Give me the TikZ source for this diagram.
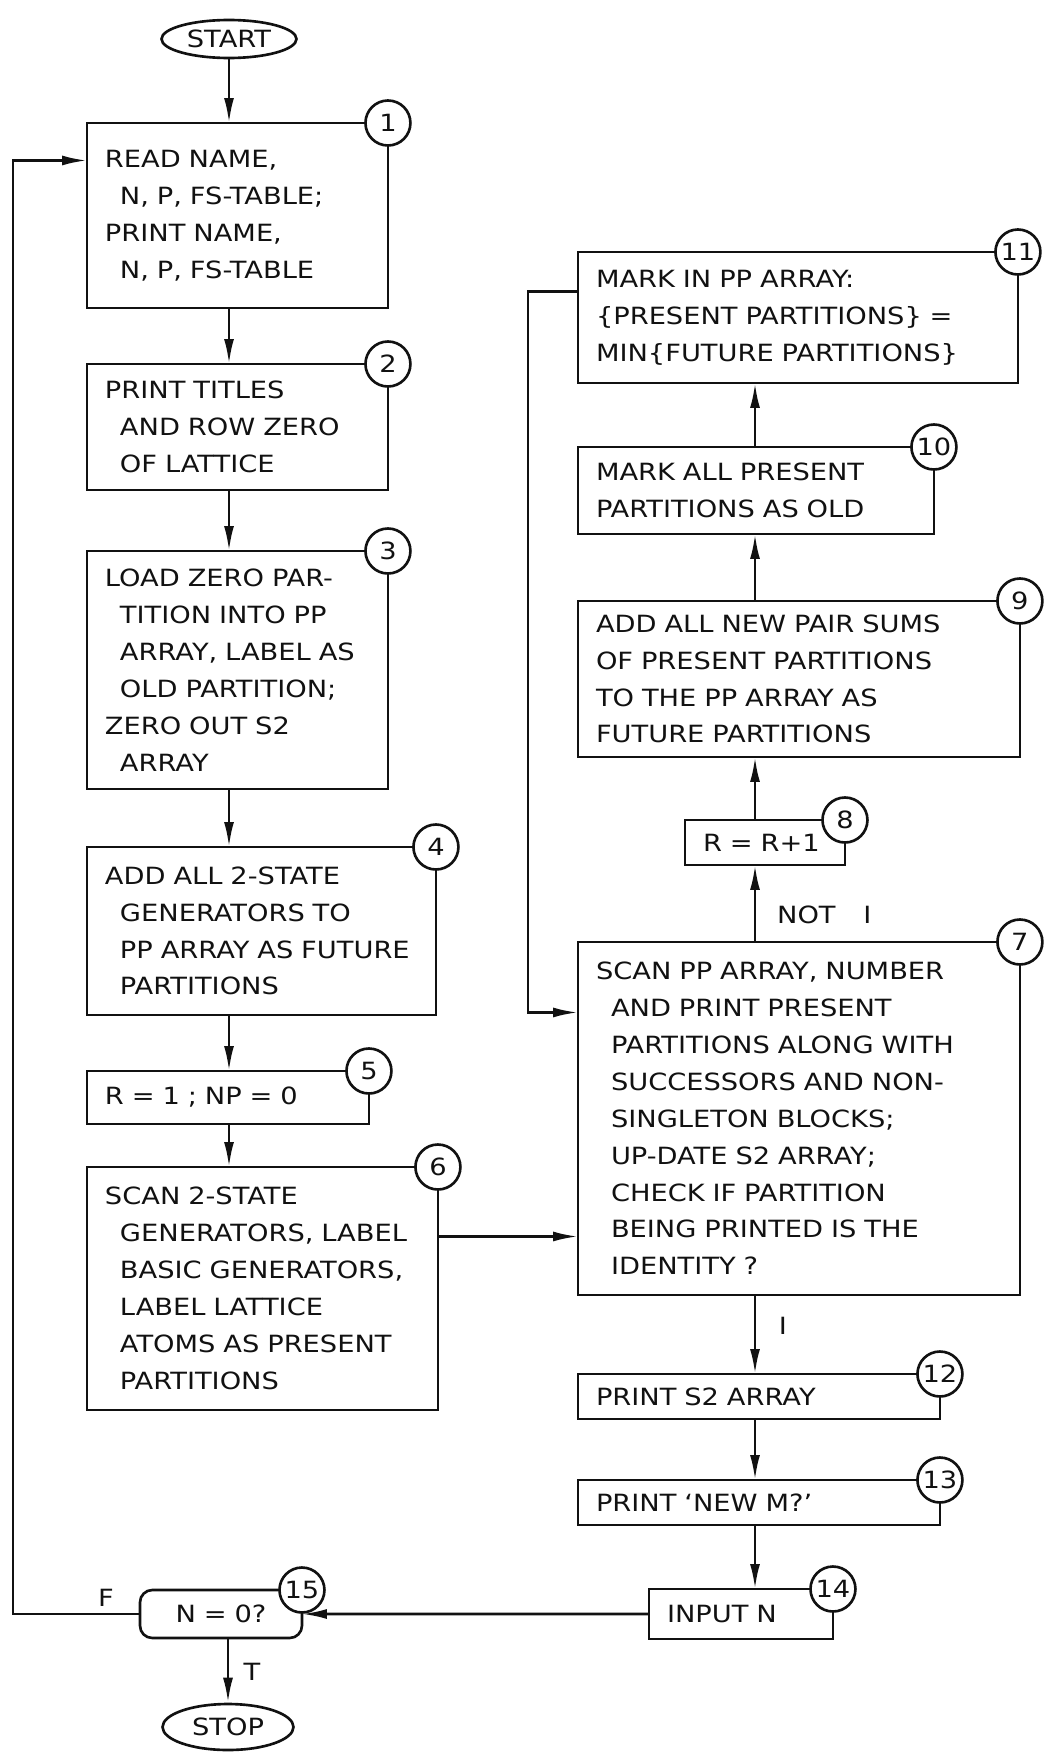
\documentclass[tikz,border=0pt]{standalone}
\usepackage{fontspec}
\setmainfont{DejaVu Sans}[WordSpace=3.2, FakeStretch=1.15]
\usetikzlibrary{arrows.meta,positioning,calc,shapes.geometric}
\definecolor{ink}{HTML}{111111}
\newcommand{\tabin}{\hspace*{0.3cm}}
\tikzset{
  proc/.style={draw=ink, text=ink, line width=1.5pt, anchor=north west, align=left,
    inner xsep=0.36cm, inner ysep=0pt, outer sep=0pt},
  term/.style={ellipse, draw=ink, text=ink, line width=1.5pt, inner sep=0pt},
  num/.style={circle, draw=ink, text=ink, fill=white, line width=1.5pt,
    minimum size=0.9cm, inner sep=0pt},
  arr/.style={draw=ink, line width=1.5pt, -{Latex[length=5mm,width=2mm]}},
  tag/.style={text=ink, inner sep=1pt}
}

\begin{document}
\begin{tikzpicture}[x=0.02cm, y=-0.02cm, font=\fontsize{13.5}{21}\selectfont]
  \useasboundingbox (0,0) rectangle (1046,1754);
  \coordinate (colL) at (229,0);
  \coordinate (colR) at (755,0);
  \coordinate (lp) at (13,0);

  % left column
  \node[term, minimum width=2.7cm, minimum height=0.76cm] (start) at (229,39) {START};
  \node[proc, text width=5.30cm, minimum height=3.70cm] (b1) at (87,123)
    {READ NAME,\\ \tabin N, P, FS-TABLE;\\ PRINT NAME,\\ \tabin N, P, FS-TABLE};
  \node[proc, text width=5.30cm, minimum height=2.52cm] (b2) at (87,364)
    {PRINT TITLES\\ \tabin AND ROW ZERO\\ \tabin OF LATTICE};
  \node[proc, text width=5.30cm, minimum height=4.76cm] (b3) at (87,551)
    {LOAD ZERO PAR-\\ \tabin TITION INTO PP\\ \tabin ARRAY, LABEL AS\\ \tabin OLD PARTITION;\\
     ZERO OUT S2\\ \tabin ARRAY};
  \node[proc, text width=6.26cm, minimum height=3.36cm] (b4) at (87,847)
    {ADD ALL 2-STATE\\ \tabin GENERATORS TO\\ \tabin\mbox{PP ARRAY AS FUTURE}\\ \tabin PARTITIONS};
  \node[proc, text width=4.92cm, minimum height=1.06cm] (b5) at (87,1071)
    {R = 1 ; NP = 0};
  \node[proc, text width=6.30cm, minimum height=4.86cm] (b6) at (87,1167)
    {SCAN 2-STATE\\ \tabin GENERATORS, LABEL\\ \tabin BASIC GENERATORS,\\ \tabin LABEL LATTICE\\
     \tabin ATOMS AS PRESENT\\ \tabin PARTITIONS};
  \node[proc, rounded corners=7pt, align=center, text width=2.52cm, minimum height=0.96cm]
    (b15) at (140,1590) {N = 0?};
  \node[term, minimum width=2.62cm, minimum height=0.92cm] (stop) at (228,1727) {STOP};

  % right column
  \node[proc, text width=8.08cm, minimum height=2.62cm] (b11) at (578,252)
    {MARK IN PP ARRAY:\\ \{PRESENT PARTITIONS\} =\\ MIN\{FUTURE PARTITIONS\}};
  \node[proc, text width=6.40cm, minimum height=1.74cm] (b10) at (578,447)
    {MARK ALL PRESENT\\ PARTITIONS AS OLD};
  \node[proc, text width=8.12cm, minimum height=3.12cm] (b9) at (578,601)
    {ADD ALL NEW PAIR SUMS\\ OF PRESENT PARTITIONS\\ TO THE PP ARRAY AS\\ FUTURE PARTITIONS};
  \node[proc, text width=2.48cm, minimum height=0.90cm] (b8) at (685,820)
    {R = R+1};
  \node[proc, text width=8.12cm, minimum height=7.06cm] (b7) at (578,942)
    {SCAN PP ARRAY, NUMBER\\ \tabin AND PRINT PRESENT\\ \tabin PARTITIONS ALONG WITH\\
     \tabin SUCCESSORS AND NON-\\ \tabin SINGLETON BLOCKS;\\ \tabin UP-DATE S2 ARRAY;\\
     \tabin CHECK IF PARTITION\\ \tabin BEING PRINTED IS THE\\ \tabin IDENTITY ?};
  \node[proc, text width=6.52cm, minimum height=0.90cm] (b12) at (578,1374)
    {PRINT S2 ARRAY};
  \node[proc, text width=6.52cm, minimum height=0.90cm] (b13) at (578,1480)
    {PRINT `NEW M?'};
  \node[proc, text width=2.96cm, minimum height=1.00cm] (b14) at (649,1589)
    {INPUT N};

  % step numbers
  \foreach \b/\n in {b1/1,b2/2,b3/3,b4/4,b5/5,b6/6,b7/7,b8/8,b9/9,b10/10,
                     b11/11,b12/12,b13/13,b14/14,b15/15}
    \node[num] (n\n) at (\b.north east) {\n};

  % connectors
  \draw[arr] (start.south) -- (start.south |- b1.north);
  \foreach \a/\b in {b1/b2,b2/b3,b3/b4,b4/b5,b5/b6}
    \draw[arr] (\a.south -| colL) -- (\b.north -| colL);
  \foreach \a/\b in {b7/b8,b8/b9,b9/b10,b10/b11}
    \draw[arr] (\a.north -| colR) -- (\b.south -| colR);
  \foreach \a/\b in {b7/b12,b12/b13,b13/b14}
    \draw[arr] (\a.south -| colR) -- (\b.north -| colR);
  \coordinate (j6) at ($(b6.east)+(0,-52)$);
  \draw[arr] (j6) -- (j6 -| b7.west);
  \draw[arr] ($(b11.west)+(0,-26)$) -- ++(-50,0) |- ($(b7.west)+(0,-106)$);
  \draw[arr] (b14.west) -- (b15.east);
  \draw[arr] (b15.west) -- (b15.west -| lp) |- ($(b1.west)+(0,-55)$);
  \draw[arr] (b15.south -| stop.north) -- (stop.north);

  \node[tag] (lf) at (106,1598) {F};
  \node[tag] (lt) at (252,1672) {T};
  \node[tag, anchor=west] (lnot) at (775,915) {NOT I};
  \node[tag] (li) at (783,1326) {I};
\end{tikzpicture}
\end{document}
